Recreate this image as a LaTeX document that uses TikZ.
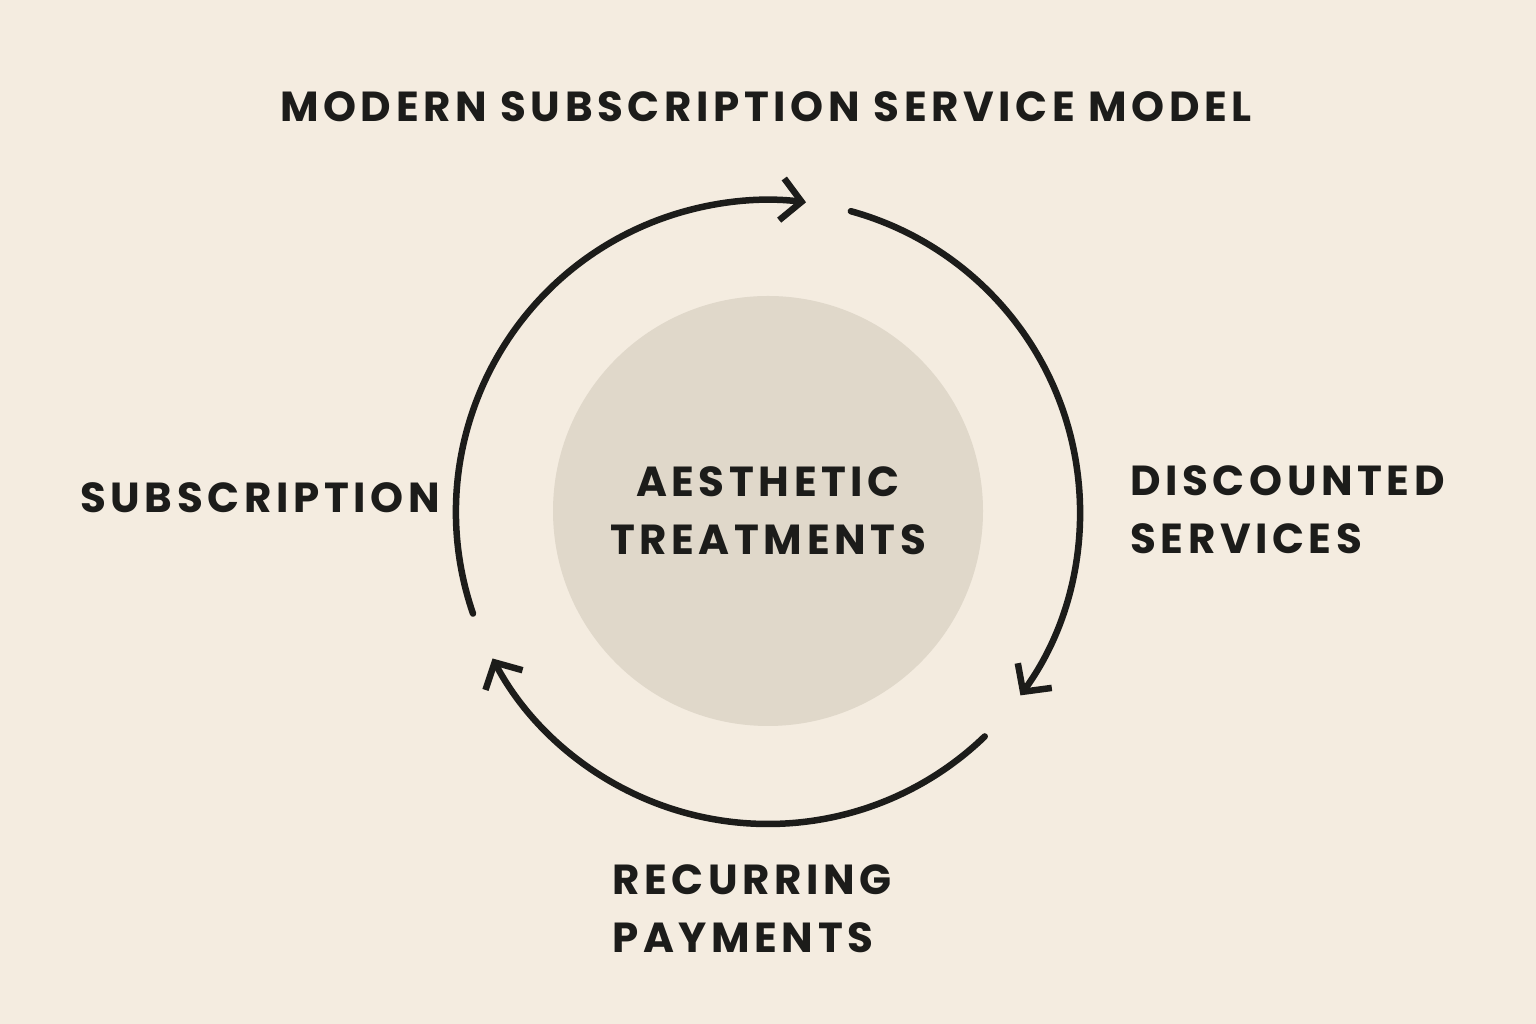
\documentclass[tikz,border=0pt]{standalone}
\usepackage{fontspec}
\setmainfont{Poppins}[LetterSpace=11]
\usetikzlibrary{arrows.meta}
\definecolor{bg}{HTML}{F4ECE0}
\definecolor{hubc}{HTML}{E0D8CA}
\definecolor{ink}{HTML}{1C1C1A}
\tikzset{
  lbl/.style={text=ink,font=\fontsize{42}{58}\selectfont\bfseries,inner sep=0pt},
  cyc/.style={draw=ink,line width=6.5pt,line cap=round,-{Straight Barb[length=20pt,width=42pt,line width=6.5pt]}}
}
\begin{document}
\begin{tikzpicture}[x=1pt,y=1pt]
\fill[bg] (0,0) rectangle (1536,1024);
\useasboundingbox (0,0) rectangle (1536,1024);
\coordinate (c) at (768,512);
\node[circle,fill=hubc,minimum size=430pt,inner sep=0pt] (hub) at (768,513) {};
\node[lbl,align=center] (hubt) at (hub.center) {AESTHETIC\\TREATMENTS};
\node[lbl] (title) at (766,917) {MODERN SUBSCRIPTION SERVICE MODEL};
\node[lbl,anchor=west] (sub) at (80,526) {SUBSCRIPTION};
\node[lbl,anchor=west,align=left] (disc) at (1130,514) {DISCOUNTED\\SERVICES};
\node[lbl,anchor=west,align=left] (rec) at (612,115) {RECURRING\\PAYMENTS};
\draw[cyc] ([shift={(199:312)}]c) arc[start angle=199,end angle=83,radius=312];
\draw[cyc] ([shift={(74.6:312)}]c) arc[start angle=74.6,end angle=-36,radius=312];
\draw[cyc] ([shift={(-46:312)}]c) arc[start angle=-46,end angle=-152,radius=312];
\end{tikzpicture}
\end{document}
